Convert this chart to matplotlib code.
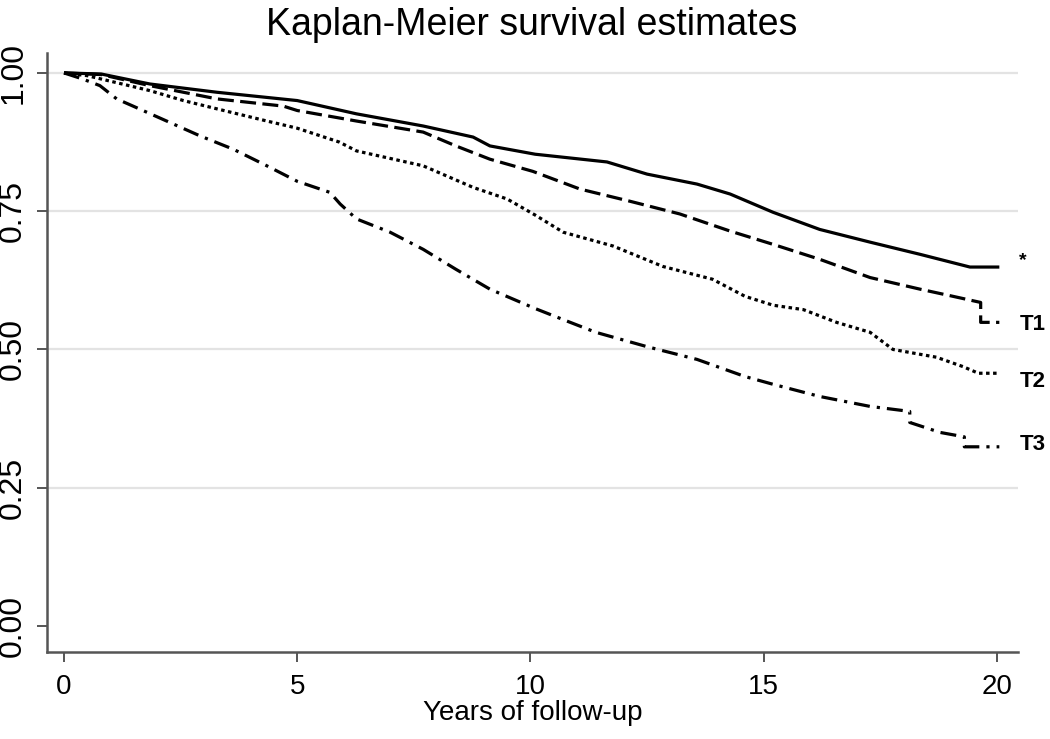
import matplotlib
matplotlib.use("Agg")
import matplotlib.pyplot as plt

# ---- data ----
t_ref = [0, 0.8, 1.84, 3.28, 5.0, 6.27, 7.7, 8.77, 9.13, 10.1, 11.64, 12.5,
         13.57, 14.28, 15.2, 16.2, 17.28, 18.35, 19.42, 20.05]
s_ref = [1.0, 0.998, 0.980, 0.965, 0.950, 0.926, 0.904, 0.884, 0.868, 0.853,
         0.839, 0.817, 0.799, 0.781, 0.748, 0.717, 0.694, 0.672, 0.649, 0.649]

t_t1 = [0, 0.8, 1.84, 3.28, 4.7, 5.0, 6.27, 7.7, 8.4, 9.13, 10.05, 11.06,
        12.13, 13.2, 14.28, 15.2, 16.2, 17.28, 18.35, 19.06, 19.65, 19.65, 20.05]
s_t1 = [1.0, 0.997, 0.977, 0.953, 0.940, 0.932, 0.913, 0.893, 0.868, 0.844,
        0.822, 0.790, 0.768, 0.745, 0.714, 0.690, 0.663, 0.630, 0.609, 0.596,
        0.585, 0.549, 0.549]

t_t2 = [0, 0.5, 1.84, 2.56, 3.28, 4.35, 5.0, 5.9, 6.27, 7.7, 8.77, 9.5, 10.1,
        10.7, 11.77, 12.84, 13.9, 14.6, 15.2, 15.85, 16.56, 17.28, 17.77, 18.7,
        19.27, 19.6, 20.05]
s_t2 = [1.0, 0.995, 0.968, 0.950, 0.935, 0.913, 0.900, 0.875, 0.859, 0.832,
        0.793, 0.772, 0.743, 0.712, 0.687, 0.650, 0.627, 0.596, 0.580, 0.572,
        0.549, 0.531, 0.500, 0.486, 0.469, 0.457, 0.457]

t_t3 = [0, 0.4, 0.77, 1.13, 1.48, 2.2, 2.92, 3.63, 4.35, 5.0, 5.7, 5.92, 6.27,
        6.99, 7.7, 8.4, 9.13, 10.1, 10.7, 11.4, 12.5, 13.57, 14.6, 15.2, 16.2,
        17.28, 18.13, 18.13, 18.78, 19.3, 19.3, 20.05]
s_t3 = [1.0, 0.989, 0.977, 0.953, 0.940, 0.913, 0.886, 0.862, 0.832, 0.804,
        0.784, 0.763, 0.736, 0.712, 0.681, 0.645, 0.609, 0.574, 0.554, 0.531,
        0.505, 0.482, 0.451, 0.437, 0.415, 0.397, 0.388, 0.368, 0.350, 0.342,
        0.324, 0.324]

group_labels = ["*", "T1", "T2", "T3"]
x_ticks = [0, 5, 10, 15, 20]
y_ticks = [0.0, 0.25, 0.5, 0.75, 1.0]
y_ticklabels = ["0.00", "0.25", "0.50", "0.75", "1.00"]

title = "Kaplan-Meier survival estimates"
xlabel = "Years of follow-up"

# ---- figure ----
plt.rcParams['font.family'] = ['Liberation Sans', 'DejaVu Sans']
fig = plt.figure(figsize=(10.5, 7.39), dpi=100)
ax = fig.add_axes([47/1050, 1 - 652/739, (1018-47)/1050, (652-53)/739])

ax.set_xlim(-0.364, 20.45)
ax.set_ylim(-0.047, 1.036)

for yv in [0.25, 0.5, 0.75, 1.0]:
    ax.axhline(yv, color='#e3e3e3', lw=1.6, zorder=0)

lw = 2.3
series = [(t_ref, s_ref, '-'), (t_t1, s_t1, (0, (5, 2))),
          (t_t2, s_t2, (0, (1.1, 1.1))), (t_t3, s_t3, (0, (5, 2.2, 1, 2.2)))]
for t, s, ls in series:
    ax.plot(t, s, color='black', lw=lw, linestyle=ls, solid_capstyle='butt',
            dash_capstyle='butt')

# end labels
ends = [s_ref[-1] + 0.012, s_t1[-1] - 0.003, s_t2[-1] - 0.015, s_t3[-1] + 0.005]
for lab, yv in zip(group_labels, ends):
    ax.text(20.48, yv, lab, ha='left', va='center', fontsize=16 if lab != '*' else 14,
            fontweight='bold', clip_on=False)

for side in ['top', 'right']:
    ax.spines[side].set_visible(False)
for side in ['left', 'bottom']:
    ax.spines[side].set_color('#555555')
    ax.spines[side].set_linewidth(1.8)

ax.set_xticks(x_ticks)
ax.set_xticklabels([str(v) for v in x_ticks])
ax.set_yticks(y_ticks)
ax.set_yticklabels(y_ticklabels, rotation=90, va='center')
ax.tick_params(axis='both', direction='out', length=7.5, width=1.4, color='#555555')
ax.tick_params(axis='x', labelsize=20, pad=8)
ax.tick_params(axis='y', labelsize=23, pad=6)

ax.set_xlabel(xlabel, fontsize=20, labelpad=0)
fig.text(532/1050, 1 - 25/739, title, ha='center', va='center', fontsize=27)

fig.savefig('out.png', dpi=100)
